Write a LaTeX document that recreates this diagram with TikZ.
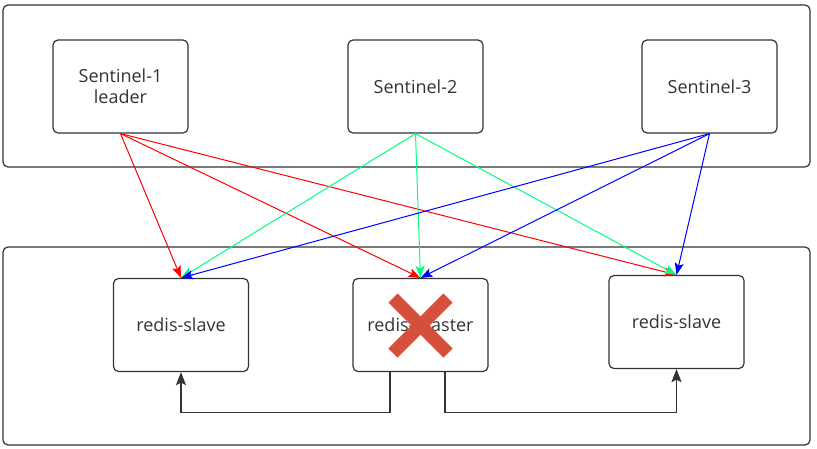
\documentclass[tikz,border=0pt]{standalone}
\usepackage{fontspec}
\setmainfont{Open Sans}
\usepackage{xcolor}
\usetikzlibrary{shapes,arrows.meta,positioning,calc}

\definecolor{boxline}{HTML}{333333}
\definecolor{lnred}{HTML}{FF0000}
\definecolor{lngreen}{HTML}{00FF80}
\definecolor{lnblue}{HTML}{0000FF}
\definecolor{crossred}{HTML}{D5503A}

\tikzset{
    group/.style={draw=boxline, line width=1.2pt, rounded corners=5pt, inner sep=0pt},
    unit/.style={draw=boxline, line width=1.2pt, rounded corners=5pt, inner sep=0pt,
        minimum width=135pt, minimum height=93pt, align=center,
        font=\fontsize{18}{21}\selectfont, text=boxline},
    vote/.style={line width=1pt, -{Stealth[length=12pt,width=9pt,inset=2.5pt]}},
    sync/.style={draw=boxline, line width=1.2pt, -{Stealth[length=13pt,width=10pt,inset=2.5pt]}}
}

\begin{document}
\begin{tikzpicture}[x=1pt, y=-1pt]
    \useasboundingbox (0,0) rectangle (817,448);

    % Groups
    \node[group, minimum width=807pt, minimum height=162pt] (sentinels) at (406.5, 86) {};
    \node[group, minimum width=807pt, minimum height=198pt] (redis) at (406.5, 346) {};

    % Sentinels
    \node[unit] (s1) at (120.5, 86.5) {Sentinel-1\\leader};
    \node[unit] (s2) at (415.5, 86.5) {Sentinel-2};
    \node[unit] (s3) at (709.5, 86.5) {Sentinel-3};

    % Redis servers
    \node[unit] (slaveA) at (181, 325) {redis-slave};
    \node[unit] (master) at (420.5, 325) {redis-master};
    \node[unit] (slaveB) at (676.5, 322) {redis-slave};

    % Failed master
    \draw[crossred, line width=13pt] (393,298) -- (448,353);
    \draw[crossred, line width=13pt] (448,298) -- (393,353);

    % Sentinel votes
    \foreach \s/\c in {s1/lnred, s2/lngreen, s3/lnblue} {
        \draw[vote, \c] (\s.south) -- (slaveA.north);
        \draw[vote, \c] (\s.south) -- (master.north);
        \draw[vote, \c] (\s.south) -- (slaveB.north);
    }

    % Replication
    \draw[sync] ([xshift=-30.5pt]master.south) -- ++(0,40) -| (slaveA.south);
    \draw[sync] ([xshift=24.5pt]master.south) -- ++(0,40) -| (slaveB.south);
\end{tikzpicture}
\end{document}
